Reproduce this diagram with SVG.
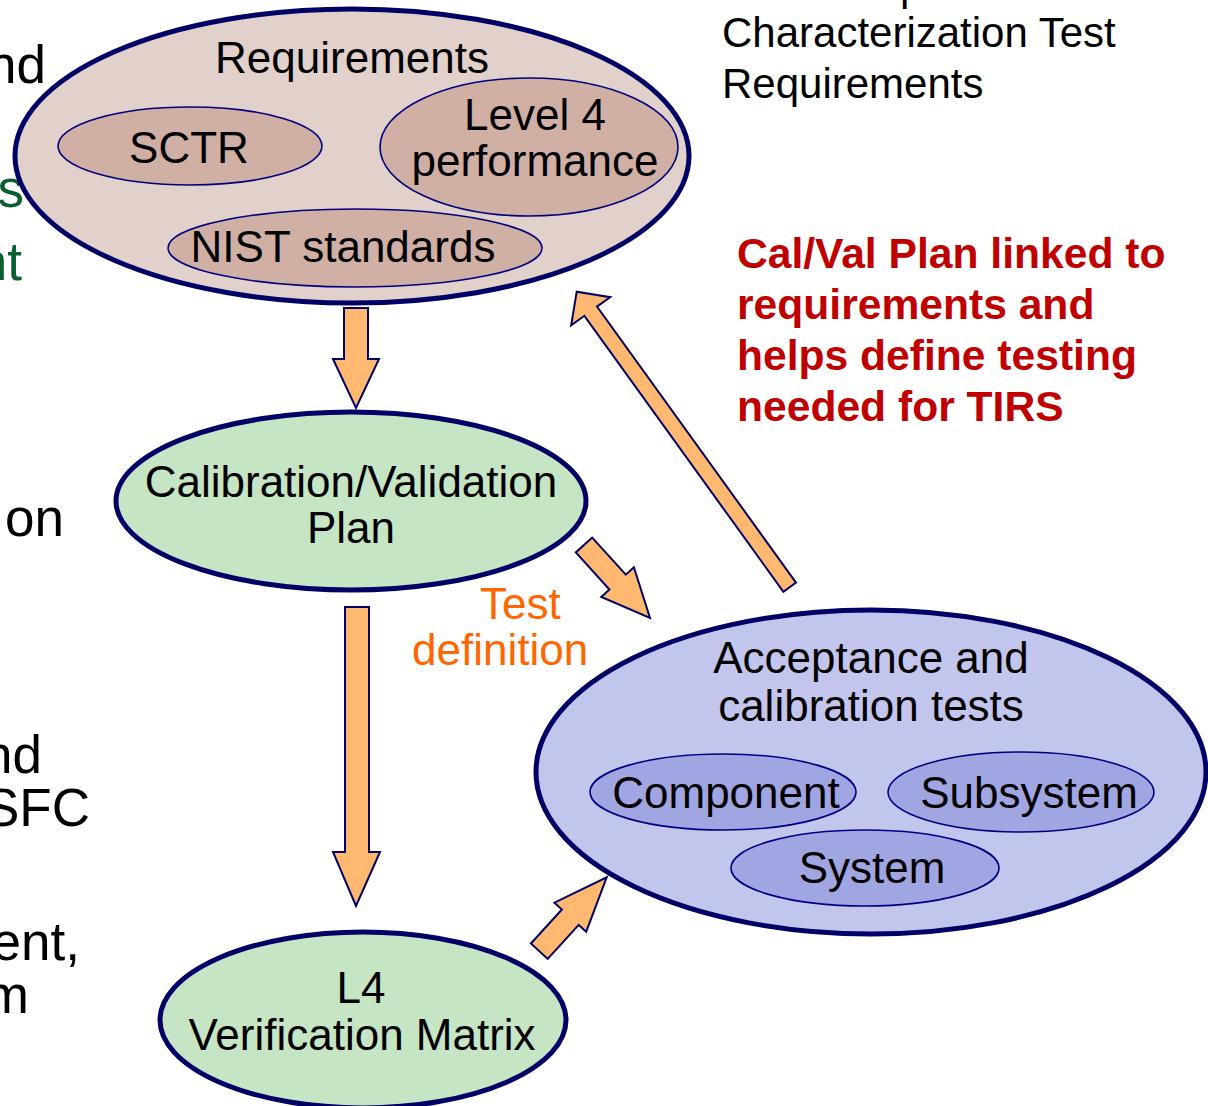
<svg xmlns="http://www.w3.org/2000/svg" width="1208" height="1106" viewBox="0 0 1208 1106">
<style>
text{font-family:"Liberation Sans",Arial,sans-serif;}
.lbl{font-size:44px;fill:#000;text-anchor:middle;}
.side{font-size:53px;fill:#000;text-anchor:end;}
.green{fill:#0B5E2E;}
.outer{stroke:#000066;stroke-width:5;}
.inner{stroke:#000080;stroke-width:1.6;}
.req{fill:#E2D0CB;}
.reqin{fill:#D0AFA5;}
.grn{fill:#C5E5C5;}
.blu{fill:#C3C6EC;}
.bluin{fill:#A0A6E2;}
.arrow{fill:#FFB870;stroke:#000066;stroke-width:2;stroke-linejoin:miter;}
.red{font-size:42.6px;font-weight:bold;fill:#C00000;}
.note{font-size:42px;fill:#000;}
.orange{font-size:44px;fill:#FF6600;}
</style>
<rect width="1208" height="1106" fill="#FFFFFF"/>

<g id="background-text">
<text class="side" x="46" y="83">nd</text>
<text class="side green" x="24" y="207">s</text>
<text class="side green" x="22" y="280">nt</text>
<text class="side" x="64" y="536">on</text>
<text class="side" x="42" y="773">nd</text>
<text class="side" x="90" y="826">SFC</text>
<text class="side" x="80" y="960">ent,</text>
<text class="side" x="29" y="1013">m</text>
<text class="note" x="900" y="0">p</text>
<text class="note" x="722" y="47">Characterization Test</text>
<text class="note" x="722" y="98">Requirements</text>
<text class="red" x="737" y="268">Cal/Val Plan linked to</text>
<text class="red" x="737" y="319">requirements and</text>
<text class="red" x="737" y="370">helps define testing</text>
<text class="red" x="737" y="421">needed for TIRS</text>
<text class="orange" x="480" y="619">Test</text>
<text class="orange" x="412" y="665">definition</text>
</g>

<g id="connectors">
<polygon class="arrow" points="344,308 368,308 368,359 379,359 356,408 333,359 344,359"/>
<polygon class="arrow" points="345,607 369,607 369,852 380,852 356,906 333,852 345,852"/>
<polygon class="arrow" points="592.2,537.6 625.8,574.7 633.9,567.3 650,618 601.3,596.9 609.4,589.5 575.8,552.4"/>
<polygon class="arrow" points="796.0,582.6 597.0,306.6 610.2,297.2 576.7,291.7 571.2,325.2 584.4,315.8 783.4,591.8"/>
<polygon class="arrow" points="530.9,943.5 561.9,909.5 554.4,902.7 606.7,877.3 586.2,931.7 578.7,924.9 547.7,958.9"/>
</g>

<g id="requirements">
<ellipse class="req outer" cx="352" cy="156" rx="337" ry="147"/>
<text class="lbl" x="352" y="73">Requirements</text>
</g>
<g id="sctr">
<ellipse class="reqin inner" cx="190" cy="146" rx="132" ry="39"/>
<text class="lbl" x="189" y="163">SCTR</text>
</g>
<g id="level4">
<ellipse class="reqin inner" cx="529" cy="147" rx="149" ry="69"/>
<text class="lbl" x="535" y="130">Level 4</text>
<text class="lbl" x="535" y="176">performance</text>
</g>
<g id="nist">
<ellipse class="reqin inner" cx="355" cy="248" rx="187" ry="39"/>
<text class="lbl" x="343" y="262">NIST standards</text>
</g>

<g id="calval">
<ellipse class="grn outer" cx="351" cy="501" rx="235" ry="89"/>
<text class="lbl" x="351" y="497">Calibration/Validation</text>
<text class="lbl" x="351" y="543">Plan</text>
</g>

<g id="l4matrix">
<ellipse class="grn outer" cx="363" cy="1020" rx="203" ry="88"/>
<text class="lbl" x="361" y="1003">L4</text>
<text class="lbl" x="362" y="1050">Verification Matrix</text>
</g>

<g id="acceptance">
<ellipse class="blu outer" cx="871" cy="772" rx="335" ry="162"/>
<text class="lbl" x="871" y="673">Acceptance and</text>
<text class="lbl" x="871" y="721">calibration tests</text>
</g>
<g id="component">
<ellipse class="bluin inner" cx="723" cy="792" rx="133" ry="38"/>
<text class="lbl" x="726" y="808">Component</text>
</g>
<g id="subsystem">
<ellipse class="bluin inner" cx="1021" cy="792" rx="133" ry="40"/>
<text class="lbl" x="1029" y="808">Subsystem</text>
</g>
<g id="system">
<ellipse class="bluin inner" cx="865" cy="868" rx="134" ry="38"/>
<text class="lbl" x="872" y="883">System</text>
</g>
</svg>
